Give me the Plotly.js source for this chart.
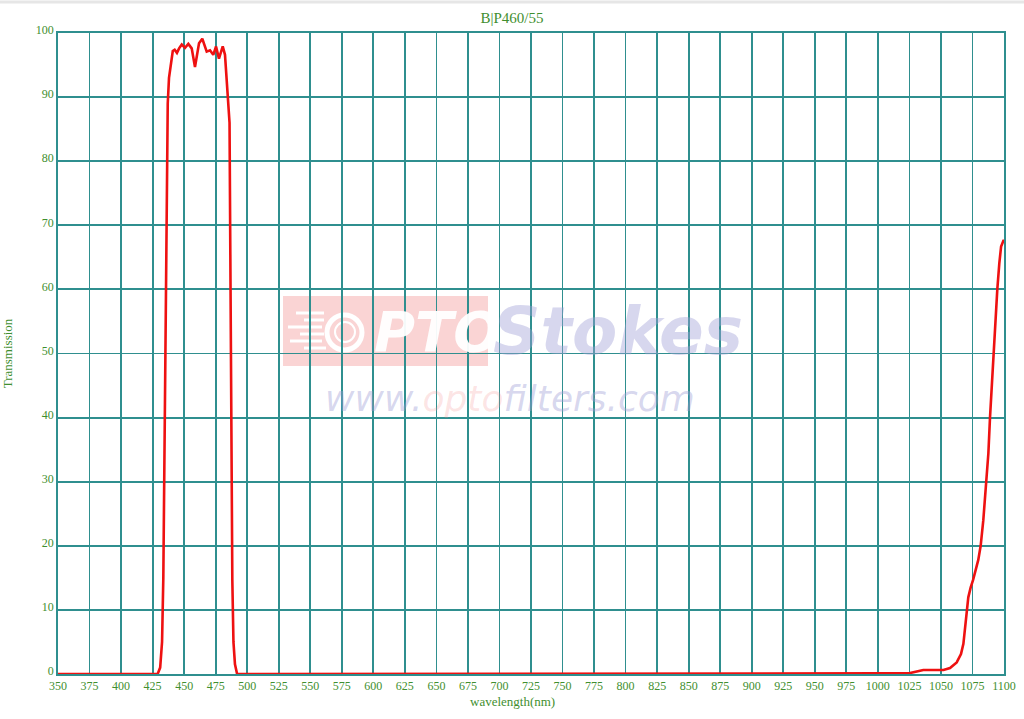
<!DOCTYPE html>
<html>
<head>
<meta charset="utf-8">
<script src="https://cdn.plot.ly/plotly-3.0.1.min.js"></script>
<style>html,body{margin:0;padding:0;background:#fff;}#chart{width:1024px;height:719px;}</style>
</head>
<body>
<div id="chart"></div>
<script>
// Wavelength (nm)
const wavelength = [
  350, 400, 429, 431, 432.5, 433.5, 434.5, 435.5, 436.3, 437, 438, 439.5, 441, 442.5, 444.3,
  446, 448.1, 450.7, 453.3, 456, 458.6, 461.8, 464.4, 467.9, 470.5, 473.1, 475.3,
  477.6, 480.6, 482.4, 484.5, 486, 486.8, 487.6, 488.2, 489.1, 490.3, 492,
  600, 800, 999, 1000.4, 1025.5, 1030, 1036, 1052, 1057.2, 1062.5, 1065.9, 1067.8,
  1069.1, 1070.5, 1071.7, 1073.6, 1075.5, 1079.6, 1081.5, 1083.6, 1085.7, 1087.6,
  1088.9, 1091.6, 1092.9, 1094.7, 1096.3, 1097.7, 1099.5, 1100
];
// Transmission (%)
const transmission = [
  0, 0, 0, 1, 5, 15, 35, 60, 80, 89, 93, 95.3, 97.2, 97.4, 96.9,
  97.6, 98.2, 97.7, 98.3, 97.6, 94.7, 98.4, 99.1, 97.1, 97.3, 96.6, 97.9,
  96.0, 97.9, 96.6, 91.1, 86, 60, 30, 14.7, 5, 1.5, 0,
  0, 0, 0, 0.1, 0.15, 0.35, 0.62, 0.62, 0.94, 1.8, 3.1, 4.7,
  6.8, 9.4, 11.96, 13.5, 14.7, 17.8, 20, 24, 29.2, 34.4,
  40, 50, 55.2, 60, 64.1, 66.7, 67.6, 67.6
];
const xTicks = [350,375,400,425,450,475,500,525,550,575,600,625,650,675,700,725,750,775,800,825,850,875,900,925,950,975,1000,1025,1050,1075,1100];
const yTicks = [0,10,20,30,40,50,60,70,80,90,100];
const chartTitle = "B|P460/55";
const xTitle = "wavelength(nm)";
const yTitle = "Transmission";

const green = "#3f8f2f";
const grid = "#2f8f8f";
const serif = "Liberation Serif, Times New Roman, serif";

const L = 58, R = 1004, T = 33, B = 674, W = 1024, H = 719;
const px = x => (x - L) / (R - L);
const py = y => (B - y) / (B - T);

const trace = {
  x: wavelength, y: transmission, type: "scatter", mode: "lines",
  line: {color: "#ee1111", width: 2.6}, cliponaxis: false, hoverinfo: "x+y"
};

const shapes = [
  // faint top band
  {type: "line", xref: "paper", yref: "paper", x0: px(0), x1: px(1024), y0: py(2), y1: py(2), line: {color: "#e6e6e6", width: 3}, layer: "below"},
  // watermark pink box
  {type: "rect", xref: "paper", yref: "paper", x0: px(283), x1: px(488), y0: py(366), y1: py(296), fillcolor: "rgba(246,170,170,0.5)", line: {width: 0}, layer: "below"},
  // lens circles
  {type: "circle", xref: "paper", yref: "paper", x0: px(327), x1: px(362), y0: py(350), y1: py(315), line: {color: "#fff", width: 5}, layer: "below"},
  {type: "circle", xref: "paper", yref: "paper", x0: px(335), x1: px(355), y0: py(342), y1: py(322), line: {color: "#fff", width: 2}, layer: "below"}
];
// speed lines
[[296, 324, 313], [304, 324, 320], [288, 322, 327], [300, 324, 334], [290, 322, 341], [304, 326, 348]].forEach(s => {
  shapes.push({type: "line", xref: "paper", yref: "paper", x0: px(s[0]), x1: px(s[1]), y0: py(s[2]), y1: py(s[2]), line: {color: "#fff", width: 3}, layer: "below"});
});

const annotations = [
  {text: xTitle, xref: "paper", yref: "paper", x: px(512), y: py(701), xanchor: "center", yanchor: "middle", showarrow: false, font: {family: serif, size: 13, color: green}},
  {text: "<b><i>PTO</i></b>", xref: "paper", yref: "paper", x: px(437), y: py(331), xanchor: "center", yanchor: "middle", showarrow: false, font: {family: "DejaVu Sans, sans-serif", size: 56, color: "rgba(255,255,255,0.95)"}},
  {text: "<b><i>Stokes</i></b>", xref: "paper", yref: "paper", x: px(618), y: py(331), xanchor: "center", yanchor: "middle", showarrow: false, font: {family: "DejaVu Sans, sans-serif", size: 66, color: "rgba(160,160,215,0.42)"}},
  {text: "<i>www.<span style='color:rgba(245,140,140,0.55)'>opto</span>filters.com</i>", xref: "paper", yref: "paper", x: px(510), y: py(398), xanchor: "center", yanchor: "middle", showarrow: false, font: {family: "DejaVu Sans, sans-serif", size: 36, color: "rgba(160,160,215,0.42)"}}
];

const layout = {
  width: W, height: H,
  margin: {l: L, r: W - R, t: T, b: H - B, pad: 0},
  paper_bgcolor: "#fff", plot_bgcolor: "rgba(0,0,0,0)",
  showlegend: false,
  title: {text: chartTitle, x: 0.5, xref: "container", xanchor: "center", y: 1 - 18 / H, yref: "container", yanchor: "middle", font: {family: serif, size: 15, color: green}},
  xaxis: {
    range: [350, 1100], tickmode: "array", tickvals: xTicks, ticktext: xTicks.map(String),
    showgrid: true, gridcolor: grid, gridwidth: 1.8, zeroline: false,
    showline: true, linecolor: grid, linewidth: 1.8, mirror: true,
    ticks: "", tickfont: {family: serif, size: 12, color: green}, ticklabelstandoff: 0
  },
  yaxis: {
    range: [0, 100], tickmode: "array", tickvals: yTicks, ticktext: yTicks.map(String),
    showgrid: true, gridcolor: grid, gridwidth: 1.8, zeroline: false,
    showline: true, linecolor: grid, linewidth: 1.8, mirror: true,
    ticks: "", tickfont: {family: serif, size: 12, color: green}, ticklabelstandoff: 0, ticklabelshift: -3,
    title: {text: yTitle, standoff: 20, font: {family: serif, size: 13, color: green}}
  },
  shapes: shapes,
  annotations: annotations
};

Plotly.newPlot("chart", [trace], layout, {displayModeBar: false, staticPlot: true});
</script>
</body>
</html>
